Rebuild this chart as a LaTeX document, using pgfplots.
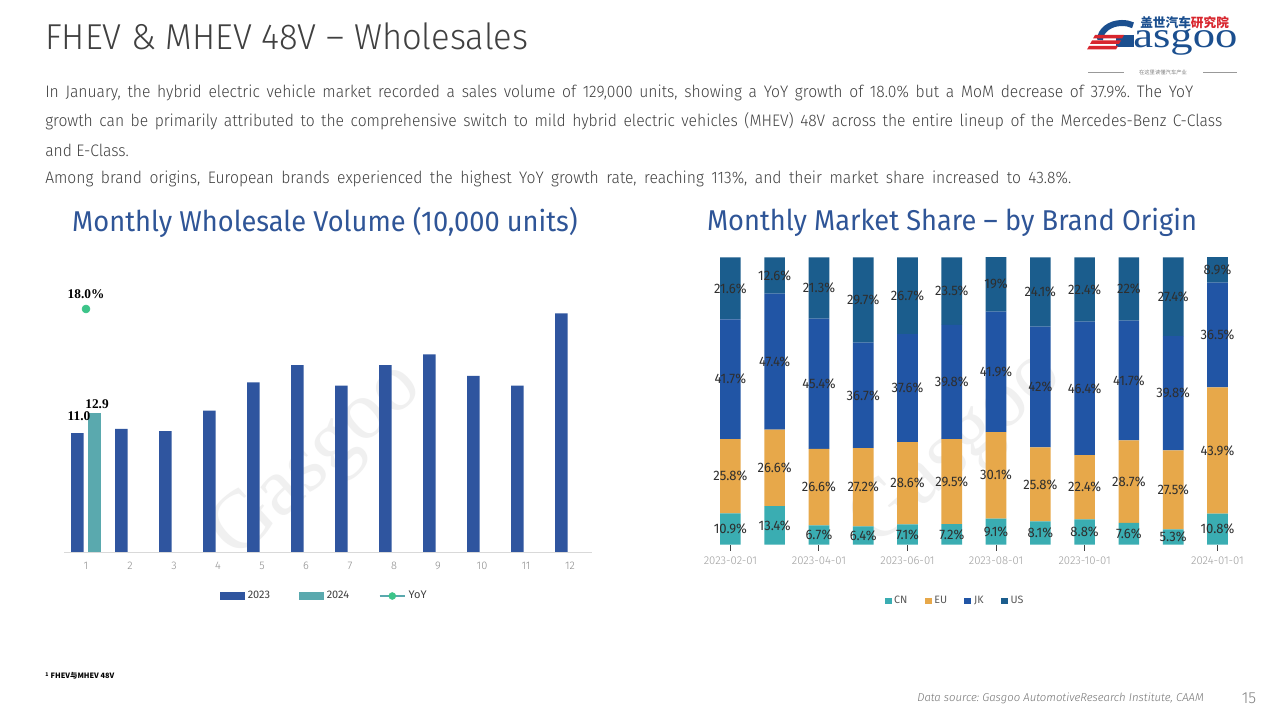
\documentclass[border=0pt]{standalone}
\usepackage{pgfplots}
\pgfplotsset{compat=1.18}
\usepackage{pgfplotstable}
\usepackage{fontspec}
\setmainfont{Fira Sans Light}
\newfontfamily\lightf{Fira Sans Light}
\newfontfamily\parafont[FakeStretch=0.94]{Fira Sans Light}
\newfontfamily\titlef[FakeStretch=0.96]{Fira Sans Light}
\newfontfamily\chartt[FakeStretch=0.95]{Fira Sans}
\newfontfamily\sansr{Fira Sans}
\newfontfamily\labf[FakeStretch=0.95]{Fira Sans}
\newfontfamily\serifb{Liberation Serif}
\newfontfamily\cjk{Noto Sans CJK SC}

\definecolor{c2023}{HTML}{2F559F}
\definecolor{c2024}{HTML}{5AA9AE}
\definecolor{yoy}{HTML}{3CC489}
\definecolor{ttl}{HTML}{2F5597}
\definecolor{txt}{HTML}{404040}
\definecolor{cn}{HTML}{3AADB2}
\definecolor{eu}{HTML}{E7A84A}
\definecolor{jk}{HTML}{2155A5}
\definecolor{us}{HTML}{1B5D8D}
\definecolor{logob}{HTML}{1B4F8F}
\definecolor{logor}{HTML}{D8262E}

\pgfplotsset{/pgf/number format/assume math mode=true}

\pgfplotstableread{
x CN EU JK US
0 10.9 25.8 41.7 21.6
1 13.4 26.6 47.4 12.6
2 6.7 26.6 45.4 21.3
3 6.4 27.2 36.7 29.7
4 7.1 28.6 37.6 26.7
5 7.2 29.5 39.8 23.5
6 9.1 30.1 41.9 19
7 8.1 25.8 42 24.1
8 8.8 22.4 46.4 22.4
9 7.6 28.7 41.7 22
10 5.3 27.5 39.8 27.4
11 10.8 43.9 36.5 8.9
}\share

\begin{document}
\frenchspacing
\begin{tikzpicture}
\path[use as bounding box, fill=white] (0pt,0pt) rectangle (960pt,540pt);

\begin{scope}[x=0.75pt, y=-0.75pt, shift={(0pt,540pt)}]
% title
\node[anchor=west, inner sep=0, text=txt, font=\titlef\fontsize{27pt}{30pt}\selectfont] at (45,36) {FHEV \& MHEV 48V – Wholesales};
% paragraph
\begin{scope}[every node/.style={anchor=west, inner sep=0, text=txt, font=\parafont\fontsize{12.5pt}{15pt}\selectfont}]
\node at (45,93) {\makebox[861pt][s]{In January, the hybrid electric vehicle market recorded a sales volume of 129,000 units, showing a YoY growth of 18.0\% but a MoM decrease of 37.9\%. The YoY}};
\node at (45,121) {\makebox[882.75pt][s]{growth can be primarily attributed to the comprehensive switch to mild hybrid electric vehicles (MHEV) 48V across the entire lineup of the Mercedes-Benz C-Class}};
\node at (45,150) {and E-Class.};
\node at (45,179) {\makebox[769.5pt][s]{Among brand origins, European brands experienced the highest YoY growth rate, reaching 113\%, and their market share increased to 43.8\%.}};
\end{scope}
% chart titles
\node[text=ttl, font=\chartt\fontsize{21.5pt}{24pt}\selectfont] at (325,222) {Monthly Wholesale Volume (10,000 units)};
\node[text=ttl, font=\chartt\fontsize{21.5pt}{24pt}\selectfont] at (952,222) {Monthly Market Share – by Brand Origin};
% watermarks
\node[rotate=42, text=black!6, font=\serifb\fontsize{62pt}{62pt}\selectfont] at (318,462) {Gasgoo};
\node[rotate=42, text=black!6, font=\serifb\fontsize{62pt}{62pt}\selectfont] at (958,450) {Gasgoo};
% logo
\draw[logob, line width=4.5pt] (1100,40) arc[start angle=180, end angle=300, x radius=22, y radius=17];
\fill[logob] (1116,35) rectangle (1134,47);
\fill[logor] (1095,35) -- (1124,35) -- (1122,38.5) -- (1093,38.5) -- cycle;
\fill[logor] (1092,40.5) -- (1121,40.5) -- (1119,44) -- (1090,44) -- cycle;
\fill[logor] (1089,46) -- (1118,46) -- (1116,49.5) -- (1087,49.5) -- cycle;
\node[anchor=base west, inner sep=0, text=logob, font=\serifb\fontsize{27pt}{27pt}\selectfont] at (1133,48) {\scalebox{1.24}[1]{asgoo}};
\node[anchor=west, inner sep=0, font=\cjk\bfseries\fontsize{9.5pt}{10pt}\selectfont] at (1140,22.5) {\textcolor{logob}{盖世汽车}\textcolor{logor}{研究院}};
\draw[black!40, line width=0.4pt] (1088,72) -- (1124,72) (1203,72) -- (1237,72);
\node[inner sep=0, text=black!50, font=\cjk\fontsize{4pt}{5pt}\selectfont] at (1163,72) {在这里读懂汽车产业};
% footer
\node[anchor=west, inner sep=0, text=black, font=\cjk\bfseries\fontsize{5.5pt}{6pt}\selectfont] at (45,676) {\textsuperscript{1} FHEV与MHEV 48V};
\node[anchor=east, inner sep=0, text=black!55, font=\lightf\itshape\fontsize{8.5pt}{10pt}\selectfont] at (1204,698) {Data source: Gasgoo AutomotiveResearch Institute, CAAM};
\node[inner sep=0, text=black!50, font=\lightf\fontsize{12pt}{14pt}\selectfont] at (1249,698) {15};
\end{scope}

% ---------- left chart ----------
\begin{axis}[
  at={(48pt,126pt)}, anchor=south west, scale only axis,
  width=396pt, height=202.5pt,
  xmin=0.5, xmax=12.5, ymin=0, ymax=25,
  axis x line=bottom, axis y line=none,
  x axis line style={draw=black!15, -},
  xtick={1,...,12}, major tick length=0pt,
  xticklabel style={font=\lightf\fontsize{8.25pt}{9pt}\selectfont, text=black!45, yshift=-4pt},
  ytick=\empty, clip=false,
  legend columns=3,
  legend cell align=left,
  legend style={draw=none, fill=none, at={(0.494,-0.163)}, anchor=center,
    font=\sansr\fontsize{8.25pt}{9pt}\selectfont, text=txt,
    /tikz/every even column/.append style={column sep=20pt}},
]
\addplot[ybar, bar width=9.4pt, bar shift=-6.4pt, fill=c2023, draw=none,
  point meta=explicit symbolic, nodes near coords={\pgfplotspointmeta},
  nodes near coords style={font=\serifb\bfseries\fontsize{10pt}{12pt}\selectfont, text=black, anchor=south, inner sep=1.5pt, xshift=-5.25pt, yshift=7.5pt},
  legend image code/.code={\fill[c2023] (0pt,-3pt) rectangle (18.5pt,3pt);}]
  coordinates {(1,11.0)[11.0] (2,11.4)[] (3,11.2)[] (4,13.1)[] (5,15.7)[] (6,17.3)[] (7,15.4)[] (8,17.3)[] (9,18.3)[] (10,16.3)[] (11,15.4)[] (12,22.1)[]};
\addlegendentry{2023}
\addplot[ybar, bar width=9.4pt, bar shift=6.4pt, fill=c2024, draw=none,
  point meta=explicit symbolic, nodes near coords={\pgfplotspointmeta},
  nodes near coords style={font=\serifb\bfseries\fontsize{10pt}{12pt}\selectfont, text=black, anchor=south, inner sep=1.5pt, xshift=8.25pt, yshift=1.5pt},
  legend image code/.code={\fill[c2024] (0pt,-3pt) rectangle (18.5pt,3pt);}]
  coordinates {(1,12.9)[12.9]};
\addlegendentry{2024}
\addlegendimage{legend image code/.code={\draw[c2024, line width=1.6pt] (0pt,0pt) -- (19pt,0pt); \fill[yoy] (9.5pt,0pt) circle (2.6pt);}}
\addlegendentry{YoY}
\end{axis}

\begin{axis}[
  at={(48pt,126pt)}, anchor=south west, scale only axis,
  width=396pt, height=202.5pt,
  xmin=0.5, xmax=12.5, ymin=0, ymax=20,
  hide axis, clip=false,
]
\addplot[only marks, mark=*, mark size=3pt, mark options={fill=yoy, draw=yoy},
  point meta=y, nodes near coords={\pgfmathprintnumber[fixed,precision=1,fixed zerofill]{\pgfplotspointmeta}\%},
  nodes near coords style={font=\serifb\bfseries\fontsize{10pt}{12pt}\selectfont, text=black, anchor=south, yshift=4.5pt}]
  coordinates {(1,18.0)};
\end{axis}

% ---------- right chart ----------
\begin{axis}[
  at={(531.15pt,131.475pt)}, anchor=south west, scale only axis,
  width=398.55pt, height=215.55pt,
  xmin=-0.5, xmax=11.5, ymin=0, ymax=100,
  ybar stacked, bar width=15.5pt,
  axis x line=bottom, axis y line=none,
  x axis line style={draw=none},
  xtick={0,2,4,6,8,11},
  xticklabels={2023-02-01,2023-04-01,2023-06-01,2023-08-01,2023-10-01,2024-01-01},
  tick align=outside, major tick length=4.5pt,
  xtick style={draw=black!75, line width=0.75pt},
  xticklabel style={font=\lightf\fontsize{8.5pt}{9pt}\selectfont, text=black!38, yshift=-1pt},
  ytick=\empty, clip=false,
  point meta=explicit,
  nodes near coords={\pgfmathprintnumber{\pgfplotspointmeta}\%},
  every node near coord/.append style={anchor=center,
     font=\labf\fontsize{10.3pt}{11pt}\selectfont, text=black!82, inner sep=0pt},
  legend columns=4,
  legend style={draw=none, fill=none, at={(0.465,-0.196)}, anchor=center,
    font=\sansr\fontsize{8pt}{9pt}\selectfont, text=black!65,
    /tikz/every even column/.append style={column sep=11pt}},
]
\addplot[fill=cn, draw=none, legend image code/.code={\fill[cn] (0pt,-2.6pt) rectangle (5.2pt,2.6pt);}] table[x=x, y=CN, meta=CN] {\share};
\addlegendentry{CN}
\addplot[fill=eu, draw=none, legend image code/.code={\fill[eu] (0pt,-2.6pt) rectangle (5.2pt,2.6pt);}] table[x=x, y=EU, meta=EU] {\share};
\addlegendentry{EU}
\addplot[fill=jk, draw=none, legend image code/.code={\fill[jk] (0pt,-2.6pt) rectangle (5.2pt,2.6pt);}] table[x=x, y=JK, meta=JK] {\share};
\addlegendentry{JK}
\addplot[fill=us, draw=none, legend image code/.code={\fill[us] (0pt,-2.6pt) rectangle (5.2pt,2.6pt);}] table[x=x, y=US, meta=US] {\share};
\addlegendentry{US}
\end{axis}
\end{tikzpicture}
\end{document}
